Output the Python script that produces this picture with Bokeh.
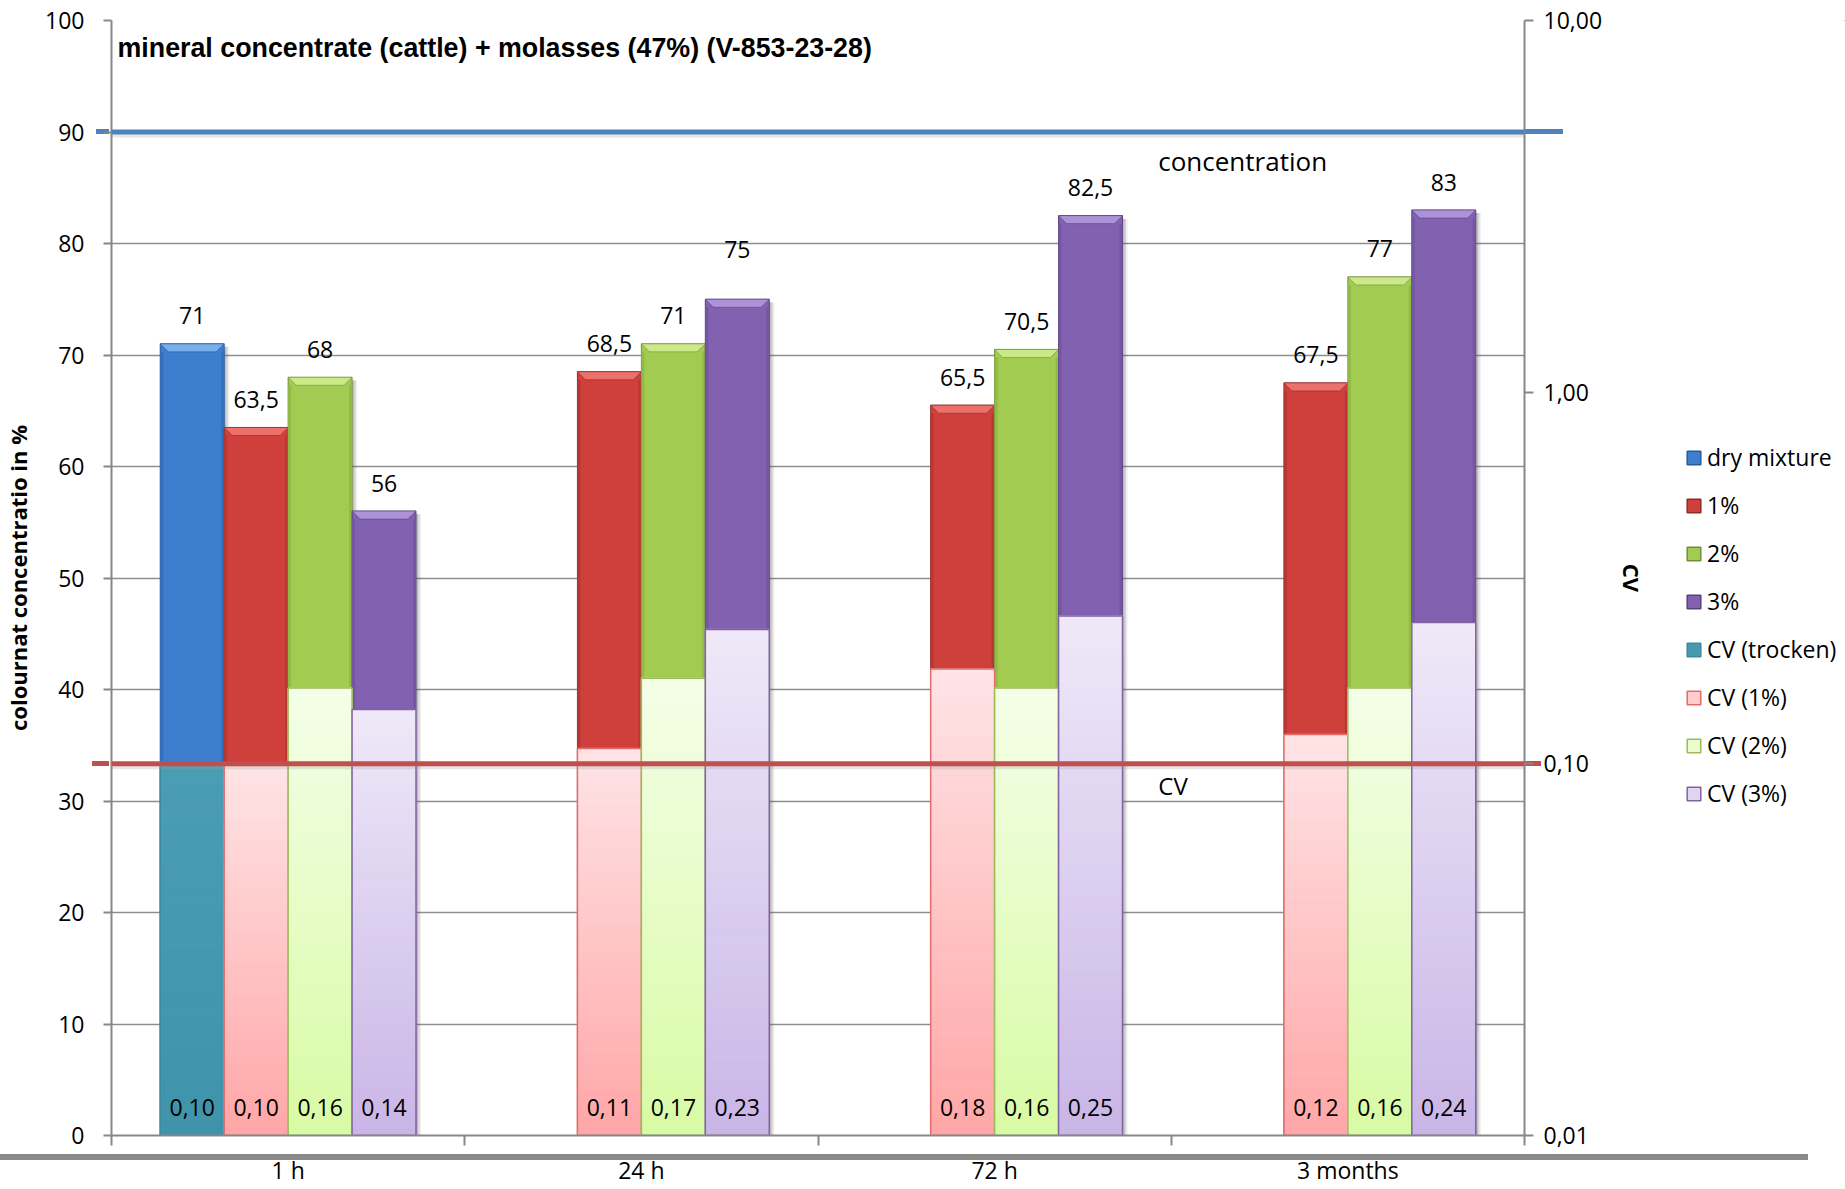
import numpy as np
from bokeh.plotting import figure
from bokeh.layouts import row
from bokeh.models import (Range1d, LinearAxis, LogAxis, LogScale, FixedTicker, Grid,
                          ColumnDataSource, BoxAnnotation, Legend, LegendItem, Label,
                          InlineStyleSheet)
from bokeh.core.properties import value
from bokeh.embed import file_html
from bokeh.resources import INLINE

# ---------------------------------------------------------------- data
categories = ["1 h", "24 h", "72 h", "3 months"]
conc_series = ["dry mixture", "1%", "2%", "3%"]
cv_series = ["CV (trocken)", "CV (1%)", "CV (2%)", "CV (3%)"]

conc_dry = [71.0, None, None, None]
conc_1 = [63.5, 68.5, 65.5, 67.5]
conc_2 = [68.0, 71.0, 70.5, 77.0]
conc_3 = [56.0, 75.0, 82.5, 83.0]

cv_dry = [0.10, None, None, None]
cv_1 = [0.10, 0.11, 0.18, 0.12]
cv_2 = [0.16, 0.17, 0.16, 0.16]
cv_3 = [0.14, 0.23, 0.25, 0.24]

conc_target = 90
cv_limit = 0.10

left_ticks = [0, 10, 20, 30, 40, 50, 60, 70, 80, 90, 100]
cv_ticks = [0.01, 0.1, 1.0, 10.0]
cv_tick_labels = ["0,01", "0,10", "1,00", "10,00"]

# ---------------------------------------------------------------- style
FONT = "Open Sans"
TXT = "23px"
AXIS_GREY = "#878787"
GRID_GREY = "#8e8e8e"

FRAME_W, FRAME_H = 1416, 1115
BORDER_L, BORDER_R, BORDER_T, BORDER_B = 108, 141, 20, 54
PLOT_W = FRAME_W + BORDER_L + BORDER_R
PLOT_H = FRAME_H + BORDER_T + BORDER_B
LEGEND_W = 180
RULE_W = 1808                 # grey rule under the axis, from the left edge
PX_X = 4.0 / FRAME_W          # x data units per pixel
PX_Y = 100.0 / FRAME_H        # left-axis units per pixel
BAR_W = 0.181

conc_style = [
    # body, top bevel, side shade, edge
    ("#3d7ecf", "#78aeec", "#3570bd", "#2a5a9c"),
    ("#cf403c", "#ec716c", "#b93733", "#8c2b28"),
    ("#a2cb51", "#cbe988", "#93b947", "#718f3a"),
    ("#8261b0", "#ad92d9", "#7457a0", "#58427e"),
]
cv_style = [
    # bottom colour, top colour, border
    ("#3f94ab", "#4a9db4", "#3b8aa0"),
    ("#ffa6a7", "#ffe4e6", "#e06c6c"),
    ("#d8fba4", "#f4fee8", "#9bbb59"),
    ("#c9b5e7", "#efe9f8", "#8064a2"),
]


def fmt_conc(v):
    return str(int(v)) if float(v).is_integer() else f"{v:.1f}".replace(".", ",")


def fmt_cv(v):
    return f"{v:.2f}".replace(".", ",")


def mix(c0, c1, t):
    a = [int(c0[i:i + 2], 16) for i in (1, 3, 5)]
    b = [int(c1[i:i + 2], 16) for i in (1, 3, 5)]
    return "#" + "".join(f"{round(a[k] + (b[k] - a[k]) * t):02x}" for k in range(3))


def bar_x(i, j):
    return i + 0.5 + (j - 1.5) * BAR_W


# ---------------------------------------------------------------- main figure
p = figure(width=PLOT_W, height=PLOT_H,
           x_range=Range1d(0, 4), y_range=Range1d(0, 100),
           x_axis_type=None, y_axis_type=None,
           output_backend="svg", toolbar_location=None,
           min_border_left=BORDER_L, min_border_right=BORDER_R,
           min_border_top=BORDER_T, min_border_bottom=BORDER_B)
p.outline_line_color = None
p.background_fill_color = "white"
p.border_fill_color = None
p.extra_y_ranges = {"cv": Range1d(0.01, 10)}
p.extra_y_scales = {"cv": LogScale()}

p.add_layout(Grid(dimension=1, ticker=FixedTicker(ticks=left_ticks),
                  grid_line_color=GRID_GREY, grid_line_width=1.3))

# left axis: colourant concentration
yax = LinearAxis(ticker=FixedTicker(ticks=left_ticks), axis_label="colournat concentratio in %")
# right axis: coefficient of variation (log)
rax = LogAxis(y_range_name="cv", ticker=FixedTicker(ticks=cv_ticks), axis_label="CV",
              major_label_overrides={t: s for t, s in zip(cv_ticks, cv_tick_labels)})
# bottom axis: labels at category centres, ticks between categories
xax = LinearAxis(ticker=FixedTicker(ticks=[i + 0.5 for i in range(len(categories))],
                                    minor_ticks=list(range(len(categories) + 1))),
                 major_label_overrides={i + 0.5: c for i, c in enumerate(categories)})

for ax in (yax, rax, xax):
    ax.axis_line_color = AXIS_GREY
    ax.axis_line_width = 2
    ax.major_tick_line_color = AXIS_GREY
    ax.major_tick_line_width = 2
    ax.minor_tick_line_color = AXIS_GREY
    ax.minor_tick_line_width = 2
    ax.major_tick_in = 0
    ax.minor_tick_in = 0
    ax.major_label_text_font = FONT
    ax.major_label_text_font_size = TXT
    ax.major_label_text_color = "black"
    ax.axis_label_text_font = FONT
    ax.axis_label_text_font_size = "22px"
    ax.axis_label_text_font_style = "bold"
    ax.axis_label_text_color = "black"

yax.major_tick_out = 8
yax.minor_tick_out = 0
yax.major_label_standoff = 19
yax.axis_label_standoff = 9
rax.major_tick_out = 9
rax.minor_tick_out = 0
rax.major_label_standoff = 10
rax.axis_label_standoff = 12
xax.major_tick_out = 0
xax.minor_tick_out = 10
xax.major_label_standoff = 8

p.add_layout(yax, "left")
p.add_layout(rax, "right")
p.add_layout(xax, "below")

# ---------------------------------------------------------------- soft shadows behind the bars
all_conc = [conc_dry, conc_1, conc_2, conc_3]
sh_x = [bar_x(i, j) for j, vals in enumerate(all_conc) for i, v in enumerate(vals) if v is not None]
sh_t = [v for vals in all_conc for v in vals if v is not None]
for off, alpha in [(5, 0.10), (3.5, 0.14), (2, 0.18)]:
    p.quad(left=[x + BAR_W / 2 - 2 * PX_X for x in sh_x],
           right=[x + BAR_W / 2 + off * PX_X for x in sh_x],
           top=[t - 3 * PX_Y for t in sh_t], bottom=0,
           fill_color="#505050", fill_alpha=alpha, line_color=None)

# ---------------------------------------------------------------- concentration bars (bevelled)
conc_legend = []
dx, dy = 8 * PX_X, 8 * PX_Y
side = 3 * PX_X
for j, (vals, (body, bevel, shade, edge)) in enumerate(zip(all_conc, conc_style)):
    xs = [bar_x(i, j) for i, v in enumerate(vals) if v is not None]
    tops = [v for v in vals if v is not None]
    p.vbar(x=xs, top=tops, bottom=0, width=BAR_W, fill_color=body,
           line_color=edge, line_width=1)
    conc_legend.append((conc_series[j], body, edge))
    l0 = [x - BAR_W / 2 for x in xs]
    r0 = [x + BAR_W / 2 for x in xs]
    p.quad(left=l0, right=[a + side for a in l0], top=[t - dy for t in tops], bottom=0,
           fill_color=shade, line_color=None)
    p.quad(left=[b - side for b in r0], right=r0, top=[t - dy for t in tops], bottom=0,
           fill_color=shade, line_color=None)
    p.patches(xs=[[a, b, b - dx, a + dx] for a, b in zip(l0, r0)],
              ys=[[t, t, t - dy, t - dy] for t in tops],
              fill_color=bevel, line_color=edge, line_width=0.6)

# ---------------------------------------------------------------- CV bars (log axis, gradient fill)
cv_legend = []
N_BANDS = 48
for j, (vals, (c_bot, c_top, border)) in enumerate(
        zip([cv_dry, cv_1, cv_2, cv_3], cv_style)):
    xs = [bar_x(i, j) for i, v in enumerate(vals) if v is not None]
    tops = [v for v in vals if v is not None]
    cv_legend.append((cv_series[j], mix(c_bot, c_top, 0.6), border))
    band = dict(left=[], right=[], bottom=[], top=[], color=[])
    for x, v in zip(xs, tops):
        edges = np.linspace(-2.0, np.log10(v), N_BANDS + 1)
        for k in range(N_BANDS):
            band["left"].append(x - BAR_W / 2)
            band["right"].append(x + BAR_W / 2)
            band["bottom"].append(10 ** edges[k])
            band["top"].append(10 ** edges[k + 1])
            band["color"].append(mix(c_bot, c_top, (k + 0.5) / N_BANDS))
    p.quad(source=ColumnDataSource(band), left="left", right="right", bottom="bottom",
           top="top", fill_color="color", line_color="color", line_width=1,
           y_range_name="cv")
    p.vbar(x=xs, top=tops, bottom=0.01, width=BAR_W, fill_alpha=0,
           line_color=border, line_width=1.5, y_range_name="cv")

# ---------------------------------------------------------------- value labels
lab_x, lab_y, lab_t, lab_off = [], [], [], []
for j, vals in enumerate(all_conc):
    for i, v in enumerate(vals):
        if v is None:
            continue
        lab_x.append(bar_x(i, j))
        lab_y.append(v)
        lab_t.append(fmt_conc(v))
        # the 24 h / 3% label sits a little higher
        lab_off.append(-50 if (i, j) == (1, 3) else -28)
p.text(x=lab_x, y=lab_y, text=lab_t, y_offset=lab_off, text_align="center",
       text_baseline="middle", text_font=value(FONT), text_font_size=TXT, text_color="black")

cv_x, cv_t = [], []
for j, vals in enumerate([cv_dry, cv_1, cv_2, cv_3]):
    for i, v in enumerate(vals):
        if v is None:
            continue
        cv_x.append(bar_x(i, j))
        cv_t.append(fmt_cv(v))
p.text(x=cv_x, y=[0.01] * len(cv_x), text=cv_t, y_offset=-28, text_align="center",
       text_baseline="middle", text_font=value(FONT), text_font_size=TXT, text_color="black",
       y_range_name="cv")

# ---------------------------------------------------------------- reference lines
LINE_T = 5
half = LINE_T / 2 * PX_Y
cv_frac = (np.log10(cv_limit) - np.log10(0.01)) / (np.log10(10) - np.log10(0.01))
cv_left = cv_frac * 100
ref_lines = [(conc_target, 12, 39, "#4f81bd"), (cv_left, 16, 17, "#c0504d")]
for yv, _, _, col in ref_lines:
    p.add_layout(BoxAnnotation(bottom=yv - half - 3 * PX_Y, top=yv + half - 3 * PX_Y,
                               fill_color="#9a9a9a", fill_alpha=0.25, line_alpha=0,
                               level="overlay"))
    p.add_layout(BoxAnnotation(bottom=yv - half, top=yv + half,
                               fill_color=col, fill_alpha=1, line_alpha=0, level="overlay"))

p.add_layout(Label(x=1049 * PX_X, y=(FRAME_H - 140) * PX_Y, text="concentration",
                   text_baseline="middle", text_font=FONT, text_font_size="26px",
                   text_color="black"))
p.add_layout(Label(x=1049 * PX_X, y=(FRAME_H - 765) * PX_Y, text="CV",
                   text_baseline="middle", text_font=FONT, text_font_size="24px",
                   text_color="black"))

p.add_layout(Label(x=6 * PX_X, y=(FRAME_H - 27) * PX_Y,
                   text="mineral concentrate (cattle) + molasses (47%) (V-853-23-28)",
                   text_baseline="middle", text_font="Liberation Sans",
                   text_font_style="bold", text_font_size="26.8px", text_color="black"))

# decorations outside the plot frame: the reference lines run a little past both
# axes, and a thick grey rule sits between the tick marks and the category labels
RULE_Y = BORDER_T + FRAME_H + 19
bg_layers = []
for yv, ext_l, ext_r, col in ref_lines:
    y_px = BORDER_T + (100 - yv) / 100 * FRAME_H - LINE_T / 2
    bg_layers.append(f"linear-gradient({col},{col}) no-repeat {BORDER_L - ext_l}px "
                     f"{y_px:.1f}px / {ext_l + 1}px {LINE_T}px")
    bg_layers.append(f"linear-gradient({col},{col}) no-repeat {BORDER_L + FRAME_W - 1}px "
                     f"{y_px:.1f}px / {ext_r + 1}px {LINE_T}px")
bg_layers.append(f"linear-gradient(#8a8a8a,#8a8a8a) no-repeat 0px {RULE_Y}px / {PLOT_W}px 6px")
p.stylesheets = [InlineStyleSheet(css=":host { background: " + ", ".join(bg_layers)
                                  + ", #ffffff; }")]

# ---------------------------------------------------------------- legend panel
leg = figure(width=LEGEND_W, height=PLOT_H, x_range=Range1d(0, 1), y_range=Range1d(0, 1),
             x_axis_type=None, y_axis_type=None, output_backend="svg",
             toolbar_location=None, min_border=0)
leg.outline_line_color = None
leg.background_fill_alpha = 0
leg.border_fill_color = None
leg.grid.visible = False
leg.stylesheets = [InlineStyleSheet(
    css=":host { background: linear-gradient(#8a8a8a,#8a8a8a) no-repeat 0px "
        f"{RULE_Y}px / {RULE_W - PLOT_W}px 6px, #ffffff; }}")]

items = []
for label, fill, line in conc_legend + cv_legend:
    # swatch renderer only; its single bar lies outside the visible range
    r = leg.vbar(x=[5], top=[5], bottom=[4], width=0.1, fill_color=fill,
                 line_color=line, line_width=1.5)
    items.append(LegendItem(label=label, renderers=[r]))

legend = Legend(items=items, location=(20, 326), orientation="vertical",
                glyph_width=17, glyph_height=17, label_height=24, spacing=16,
                label_standoff=5, padding=0, margin=0,
                border_line_color=None, background_fill_alpha=0,
                label_text_font=FONT, label_text_font_size=TXT, label_text_color="black")
leg.add_layout(legend, "center")

open("out.html", "w").write(file_html(row(p, leg, spacing=0), INLINE))
